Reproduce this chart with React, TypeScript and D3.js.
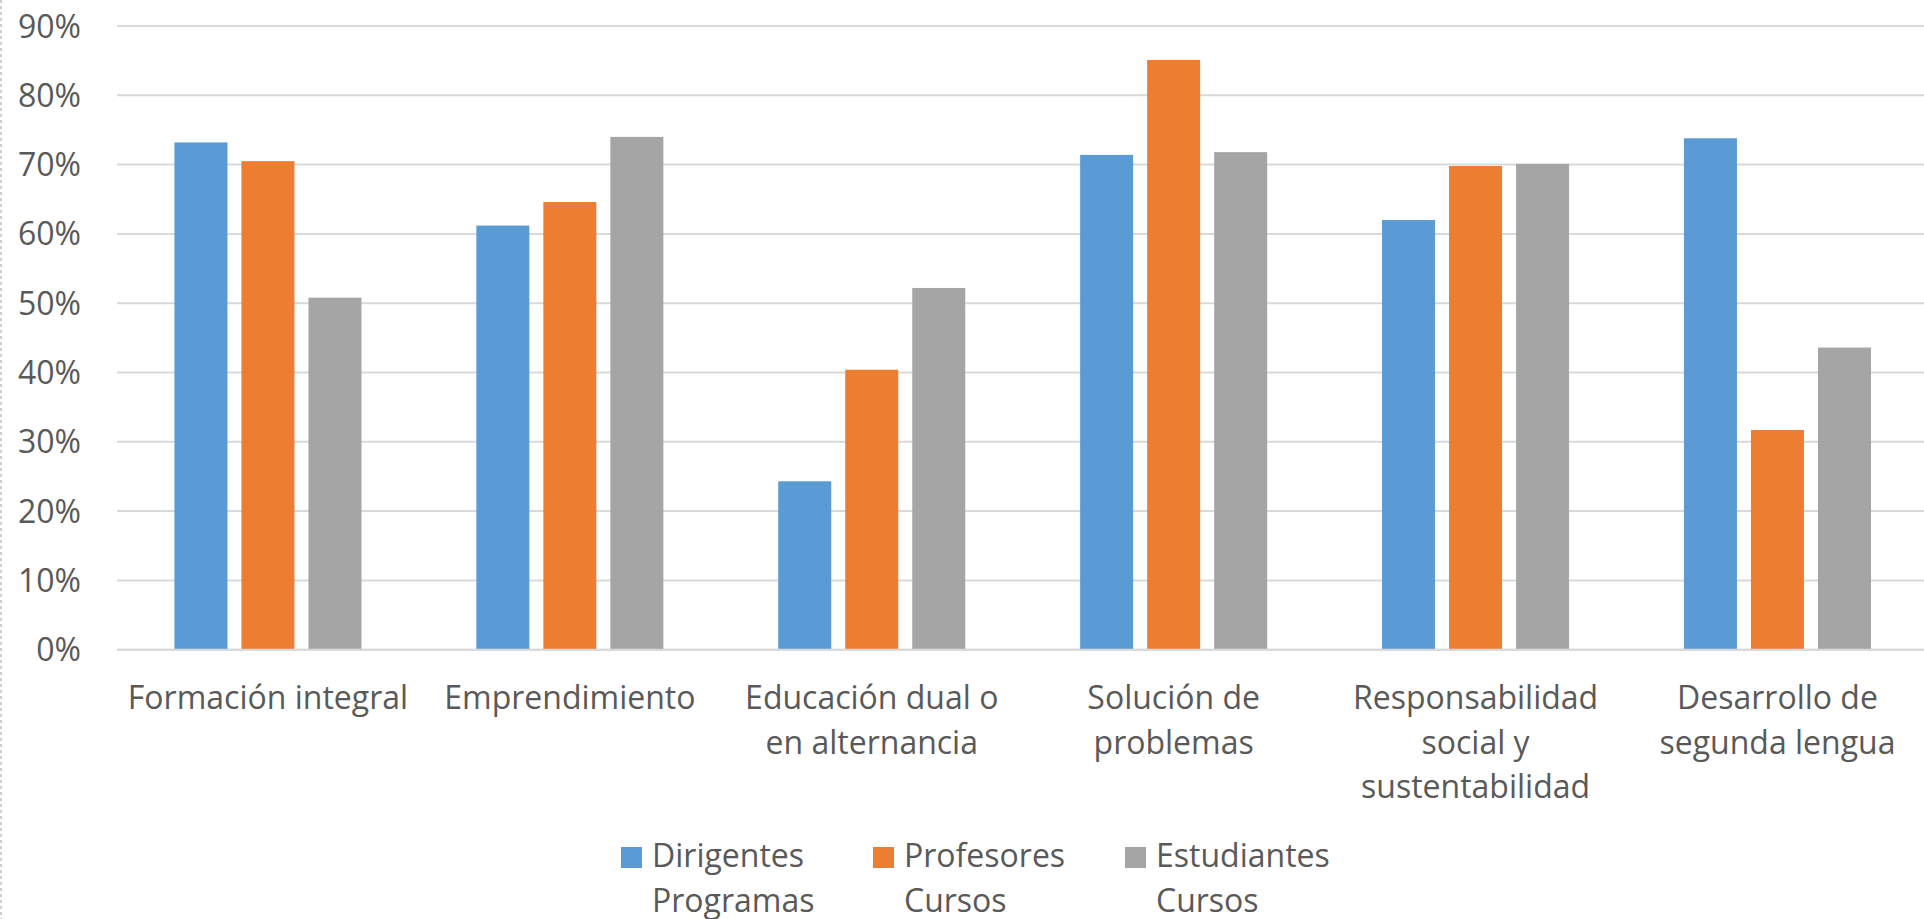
import * as d3 from "d3";
import React from "react";

const WIDTH = 1924;
const HEIGHT = 919;
const MARGIN = { top: 26, left: 117, bottom: 270 };
const PLOT_RIGHT = 1928.4;

const categories = [
    "Formación integral",
    "Emprendimiento",
    "Educación dual o en alternancia",
    "Solución de problemas",
    "Responsabilidad social y sustentabilidad",
    "Desarrollo de segunda lengua",
];
// how the category names wrap under the axis
const categoryLines = [
    ["Formación integral"],
    ["Emprendimiento"],
    ["Educación dual o", "en alternancia"],
    ["Solución de", "problemas"],
    ["Responsabilidad", "social y", "sustentabilidad"],
    ["Desarrollo de", "segunda lengua"],
];

const series = ["Dirigentes Programas", "Profesores Cursos", "Estudiantes Cursos"];
const seriesLines = [
    ["Dirigentes", "Programas"],
    ["Profesores", "Cursos"],
    ["Estudiantes", "Cursos"],
];
const colors = ["#5B9BD5", "#ED7D31", "#A5A5A5"];

const dirigentes = [0.732, 0.612, 0.243, 0.714, 0.62, 0.738];
const profesores = [0.705, 0.646, 0.404, 0.851, 0.698, 0.317];
const estudiantes = [0.508, 0.74, 0.522, 0.718, 0.701, 0.436];
const values = [dirigentes, profesores, estudiantes];

const yTicks = [0, 0.1, 0.2, 0.3, 0.4, 0.5, 0.6, 0.7, 0.8, 0.9];

const FONT = "'Open Sans', Calibri, sans-serif";
const TEXT = "#595959";

const App: React.FC = () => {
    const baseY = HEIGHT - MARGIN.bottom + 0.7;

    const x = d3
        .scaleBand<string>()
        .domain(categories)
        .range([MARGIN.left, PLOT_RIGHT]);
    const xInner = d3
        .scaleBand<string>()
        .domain(series)
        .range([0, x.bandwidth()])
        .paddingInner(0.209)
        .paddingOuter(0.857);
    const y = d3.scaleLinear().domain([0, 0.9]).range([baseY, MARGIN.top]);

    const xLegend = d3.scalePoint<string>().domain(series).range([621, 1125]);

    const fmt = d3.format(".0%");

    return (
        <svg
            width={WIDTH}
            height={HEIGHT}
            style={{ position: "absolute", left: 0, top: 0, background: "#fff" }}
        >
            <line
                x1={1}
                x2={1}
                y1={0}
                y2={HEIGHT}
                stroke="#c0c0c0"
                strokeWidth={1.5}
                strokeDasharray="3,3"
            />
            {/* gridlines */}
            {yTicks.map((t) => (
                <line
                    key={t}
                    x1={MARGIN.left}
                    x2={PLOT_RIGHT}
                    y1={y(t)}
                    y2={y(t)}
                    stroke="#d9d9d9"
                    strokeWidth={2}
                />
            ))}
            {/* y labels */}
            {yTicks.map((t) => (
                <text
                    key={t}
                    x={81}
                    y={y(t)}
                    dy="0.36em"
                    textAnchor="end"
                    fontFamily={FONT}
                    fontSize={32}
                    fill={TEXT}
                >
                    {fmt(t)}
                </text>
            ))}
            {/* bars */}
            {categories.map((c, i) => (
                <g key={c} transform={`translate(${x(c)},0)`}>
                    {series.map((s, j) => (
                        <rect
                            key={s}
                            x={xInner(s)}
                            y={y(values[j][i])}
                            width={xInner.bandwidth()}
                            height={baseY - y(values[j][i])}
                            fill={colors[j]}
                        />
                    ))}
                </g>
            ))}
            <line
                x1={MARGIN.left}
                x2={PLOT_RIGHT}
                y1={baseY}
                y2={baseY}
                stroke="#d9d9d9"
                strokeWidth={2}
            />
            {/* category labels */}
            {categories.map((c, i) => (
                <text
                    key={c}
                    transform={`translate(${(x(c) ?? 0) + x.bandwidth() / 2},709)`}
                    textAnchor="middle"
                    fontFamily={FONT}
                    fontSize={32}
                    fill={TEXT}
                >
                    {categoryLines[i].map((line, k) => (
                        <tspan key={k} x={0} y={k * 44.5}>
                            {line}
                        </tspan>
                    ))}
                </text>
            ))}
            {/* legend */}
            {series.map((s, j) => (
                <g key={s} transform={`translate(${xLegend(s)},0)`}>
                    <rect x={0} y={847} width={21} height={21} fill={colors[j]} />
                    <text
                        transform="translate(31,867)"
                        fontFamily={FONT}
                        fontSize={32}
                        fill={TEXT}
                    >
                        {seriesLines[j].map((line, k) => (
                            <tspan key={k} x={0} y={k * 45}>
                                {line}
                            </tspan>
                        ))}
                    </text>
                </g>
            ))}
        </svg>
    );
};

export default App;
